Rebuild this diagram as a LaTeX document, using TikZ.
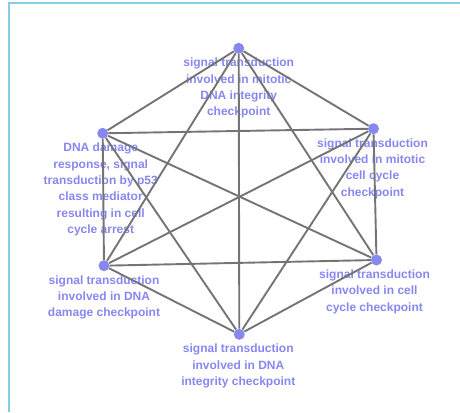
\documentclass[tikz,border=0pt]{standalone}
\usepackage{fontspec}
\setmainfont{Liberation Sans}
\usetikzlibrary{positioning}
\definecolor{termblue}{HTML}{8787F0}
\definecolor{edgegray}{HTML}{747474}
\definecolor{framecyan}{HTML}{88CDE6}

\begin{document}
\begin{tikzpicture}[x=1pt,y=-1pt,
        term/.style={circle, fill=termblue, inner sep=0pt, minimum size=11pt},
        termtext/.style={text=termblue, inner sep=0pt, align=center,
            font=\bfseries\fontsize{12}{16.3}\selectfont},
        link/.style={edgegray, line width=1.9pt}]
        \useasboundingbox (0,0) rectangle (460,412);
        \draw[framecyan, line width=1.8pt] (9,412) -- (9,3) -- (460,3);

        \node[term] (mitdna) at (238.7,48.3) {};
        \node[term] (mitcell) at (373.5,128.7) {};
        \node[term] (cellcyc) at (376.5,260) {};
        \node[term] (dnaint) at (239.3,334.3) {};
        \node[term] (dnadmg) at (104,265.7) {};
        \node[term] (p53) at (102.7,133.3) {};

        \node[termtext, below=4pt of mitdna] (mitdnalbl) {signal transduction\\involved in mitotic\\DNA integrity\\checkpoint};
        \node[termtext, below=4pt of mitcell, xshift=-1pt] (mitcelllbl) {signal transduction\\involved in mitotic\\cell cycle\\checkpoint};
        \node[termtext, below=4pt of cellcyc, xshift=-2pt] (cellcyclbl) {signal transduction\\involved in cell\\cycle checkpoint};
        \node[termtext, below=4pt of dnaint, xshift=-1pt] (dnaintlbl) {signal transduction\\involved in DNA\\integrity checkpoint};
        \node[termtext, below=4pt of dnadmg] (dnadmglbl) {signal transduction\\involved in DNA\\damage checkpoint};
        \node[termtext, below=4pt of p53, xshift=-2pt] (p53lbl) {DNA damage\\response, signal\\transduction by p53\\class mediator\\resulting in cell\\cycle arrest};

        \draw[link] (mitdna) -- (mitcell);
        \draw[link] (mitdna) -- (cellcyc);
        \draw[link] (mitdna) -- (dnaint);
        \draw[link] (mitdna) -- (dnadmg);
        \draw[link] (mitdna) -- (p53);
        \draw[link] (mitcell) -- (cellcyc);
        \draw[link] (mitcell) -- (dnaint);
        \draw[link] (mitcell) -- (dnadmg);
        \draw[link] (mitcell) -- (p53);
        \draw[link] (cellcyc) -- (dnaint);
        \draw[link] (cellcyc) -- (dnadmg);
        \draw[link] (cellcyc) -- (p53);
        \draw[link] (dnaint) -- (dnadmg);
        \draw[link] (dnaint) -- (p53);
        \draw[link] (dnadmg) -- (p53);
    \end{tikzpicture}
\end{document}
